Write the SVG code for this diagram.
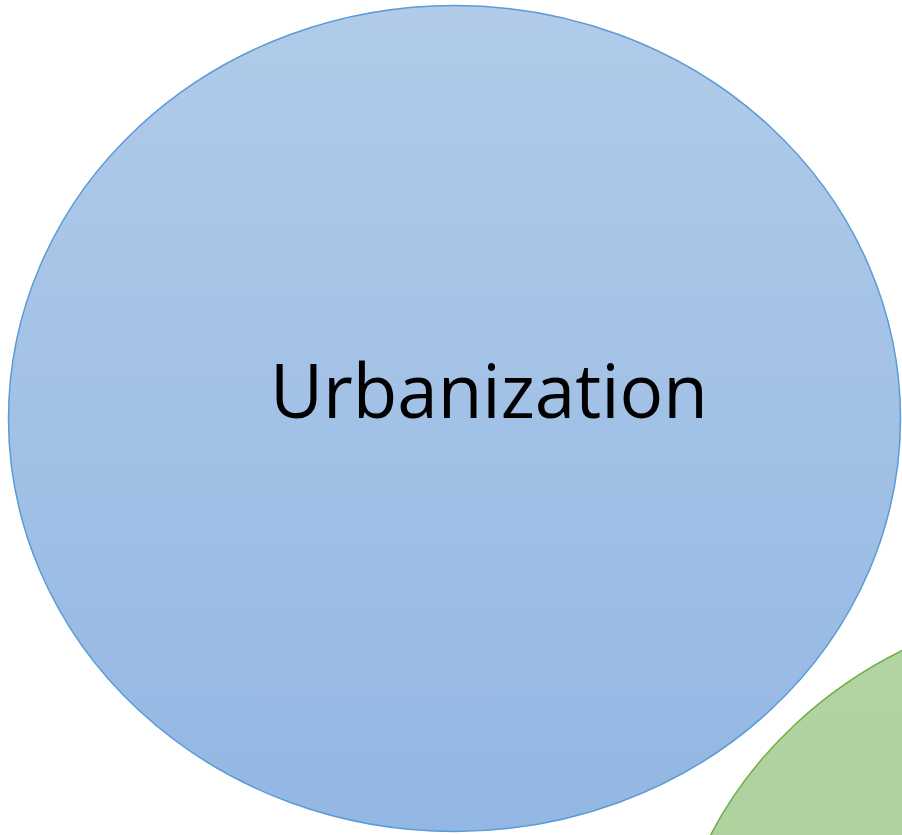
<svg xmlns="http://www.w3.org/2000/svg" width="902" height="835" viewBox="0 0 902 835">
  <defs>
    <linearGradient id="gBlue" x1="0" y1="0" x2="0" y2="1">
      <stop offset="0" stop-color="#b1cbe9"/>
      <stop offset="1" stop-color="#93b7e3"/>
    </linearGradient>
    <linearGradient id="gGreen" x1="0" y1="0" x2="0" y2="1">
      <stop offset="0" stop-color="#b3d4a3"/>
      <stop offset="1" stop-color="#a6cc94"/>
    </linearGradient>
  </defs>
  <style>
    .lbl { font-family: "Open Sans", "Noto Sans", sans-serif; font-size: 75px; fill: #000; }
  </style>
  <rect width="902" height="835" fill="#ffffff"/>
  <g id="node-green">
    <ellipse cx="1112" cy="1015" rx="446" ry="413" fill="url(#gGreen)" stroke="#70ad47" stroke-width="1.5"/>
  </g>
  <g id="node-urbanization">
    <ellipse cx="454.5" cy="418.5" rx="446" ry="413" fill="url(#gBlue)" stroke="#5b9bd5" stroke-width="1.5"/>
    <text class="lbl" x="270" y="418" textLength="438" lengthAdjust="spacingAndGlyphs">Urbanization</text>
  </g>
  <g id="connectors"/>
</svg>
